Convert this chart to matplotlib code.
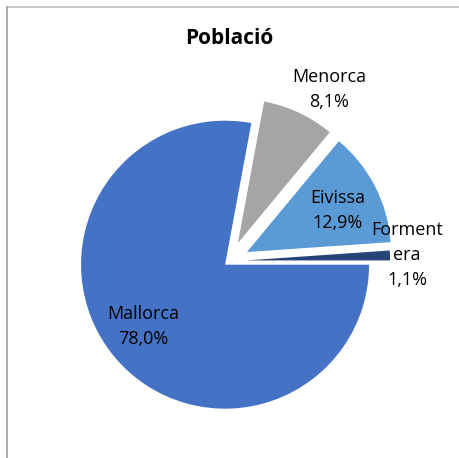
"""
Pie chart: Població per illa (Illes Balears)
"""

import numpy as np
import matplotlib.pyplot as plt
from matplotlib.lines import Line2D

# Data (counter-clockwise from 3 o'clock)
ISLANDS = ['Formentera', 'Eivissa', 'Menorca', 'Mallorca']
SHARES = [1.1, 12.9, 8.1, 78.0]
LABELS = ['Forment\nera\n1,1%', 'Eivissa\n12,9%', 'Menorca\n8,1%', 'Mallorca\n78,0%']

COLORS = ['#264478', '#5B9BD5', '#A5A5A5', '#4472C4']
EXPLODE = [0.115, 0.136, 0.137, 0.04]   # fraction of radius

# label placement (radius as fraction of pie radius, angle in degrees)
LABEL_R = [1.233, 0.831, 1.374, 0.751]
LABEL_ANG = [1.9, 25, 59.8, 217.3]

W, H = 459, 458
CX, CY, R = 229.5, H - 261, 144

fig = plt.figure(figsize=(W / 100, H / 100), dpi=100)
ax = fig.add_axes([0, 0, 1, 1])

ax.pie(SHARES, colors=COLORS, explode=[e * R for e in EXPLODE], startangle=0,
       counterclock=True, center=(CX, CY), radius=R,
       wedgeprops=dict(linewidth=0), frame=True)
ax.set_xlim(0, W)
ax.set_ylim(0, H)
ax.set_aspect('equal')
ax.axis('off')

for lab, r, a in zip(LABELS, LABEL_R, LABEL_ANG):
    x = CX + r * R * np.cos(np.radians(a))
    y = CY + r * R * np.sin(np.radians(a))
    ax.text(x, y, lab, ha='center', va='center', fontsize=13,
            family='Open Sans', color='#000000', linespacing=1.5)

ax.text(CX, H - 38, 'Població', ha='center', va='center', fontsize=15,
        fontweight='bold', family='Open Sans')

# chart border (partly cropped in the original)
fig.add_artist(Line2D([6.5 / W, 1], [1 - 6.5 / H, 1 - 6.5 / H],
                      transform=fig.transFigure, color='#bfbfbf', lw=1.2))
fig.add_artist(Line2D([6.5 / W, 6.5 / W], [0, 1 - 6.5 / H],
                      transform=fig.transFigure, color='#a0a0a0', lw=1.2))

plt.savefig('out.png', dpi=100, facecolor='white')
plt.close()
